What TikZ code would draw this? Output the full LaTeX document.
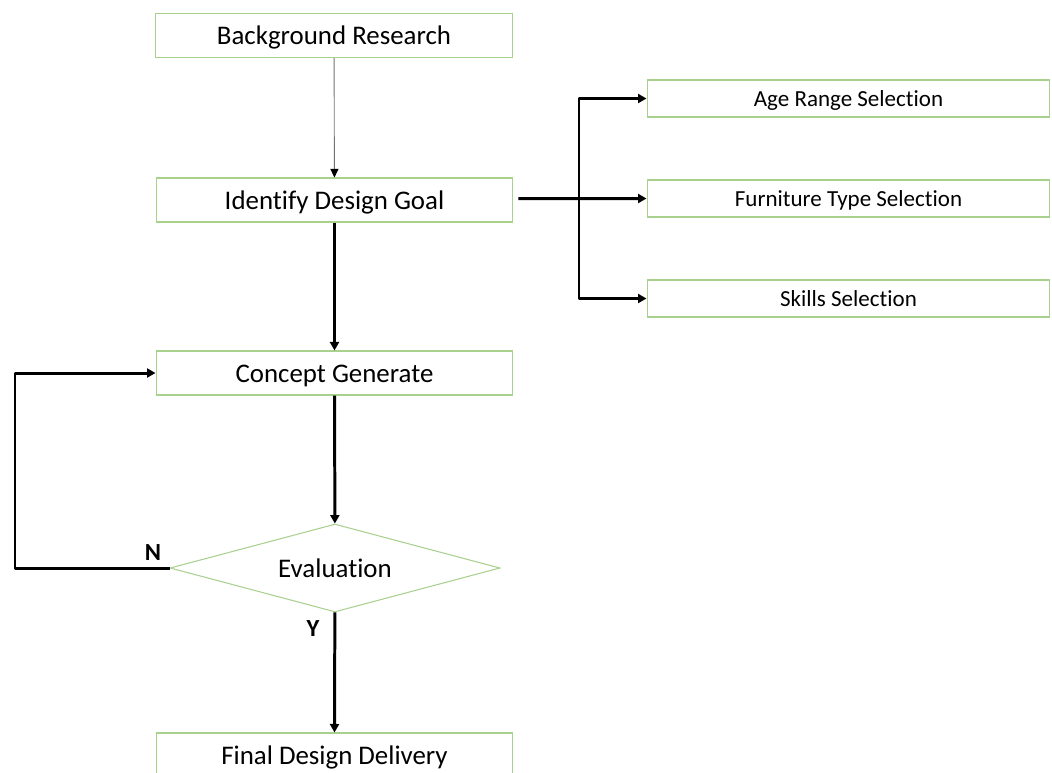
\documentclass[tikz,border=0pt]{standalone}
\usepackage{fontspec}
\setmainfont{Carlito}[Ligatures=NoCommon]
\usepackage{tikz}
\usetikzlibrary{arrows.meta}
\usetikzlibrary{shapes.geometric}
\usetikzlibrary{calc}

\definecolor{boxgreen}{RGB}{169,209,142}

\tikzset{
	stepbox/.style={draw=boxgreen, line width=0.6pt, fill=white, minimum width=7.14cm, minimum height=0.88cm, inner sep=0pt, text height=14.3pt, text depth=3.8pt, font=\fontsize{15.3}{18}\selectfont},
	optbox/.style={draw=boxgreen, line width=0.6pt, fill=white, minimum width=8.06cm, minimum height=0.74cm, inner sep=0pt, text height=12pt, text depth=3.3pt, font=\fontsize{13.1}{16}\selectfont},
	checkbox/.style={diamond, draw=boxgreen, line width=0.6pt, fill=white, aspect=3.75, minimum width=6.6cm, minimum height=1.76cm, inner sep=0pt, text height=14.3pt, text depth=3.8pt, font=\fontsize{15.3}{18}\selectfont},
	flow/.style={line width=1.7pt, line join=round, -{Triangle[length=0.17cm, width=0.18cm]}},
	thinflow/.style={line width=0.5pt, draw=black!55, -{Triangle[length=0.17cm, width=0.16cm, fill=black, color=black]}},
	yesno/.style={font=\fontsize{14}{16}\selectfont\bfseries}
}

\begin{document}
\begin{tikzpicture}[x=0.02cm, y=-0.02cm]
	\useasboundingbox (0,0) rectangle (1052,772);
	\clip (0,0) rectangle (1052,772);

	% main steps
	\node (bg) [stepbox] at (334,35.5) {Background Research};
	\node (goal) [stepbox] at (334.5,200) {Identify Design Goal};
	\node (concept) [stepbox] at (334.5,373) {Concept Generate};
	\node (eval) [checkbox] at (335,568) {Evaluation};
	\node (final) [stepbox] at (334.5,755) {Final Design Delivery};

	% selections
	\node (age) [optbox] at (848.5,98.5) {Age Range Selection};
	\node (furniture) [optbox] at (848.5,198.5) {Furniture Type Selection};
	\node (skills) [optbox] at (848.5,298.5) {Skills Selection};

	\coordinate (split) at (579,198.5);
	\coordinate (back) at (15,568);

	\draw [thinflow] (bg) -- (goal);
	\draw [flow] (goal) -- (concept);
	\draw [flow] (concept) -- (eval);
	\draw [flow] (eval) -- (final.north);

	\draw [flow] ($(goal.east)+(5,-1.5)$) -- (furniture.west);
	\draw [flow] (split) |- (age.west);
	\draw [flow] (split) |- (skills.west);

	% loop back
	\draw [flow] (eval.west) -- (back) |- (concept.west);

	\node (no) [yesno] at (153,553) {N};
	\node (yes) [yesno] at (313,629) {Y};

\end{tikzpicture}
\end{document}
